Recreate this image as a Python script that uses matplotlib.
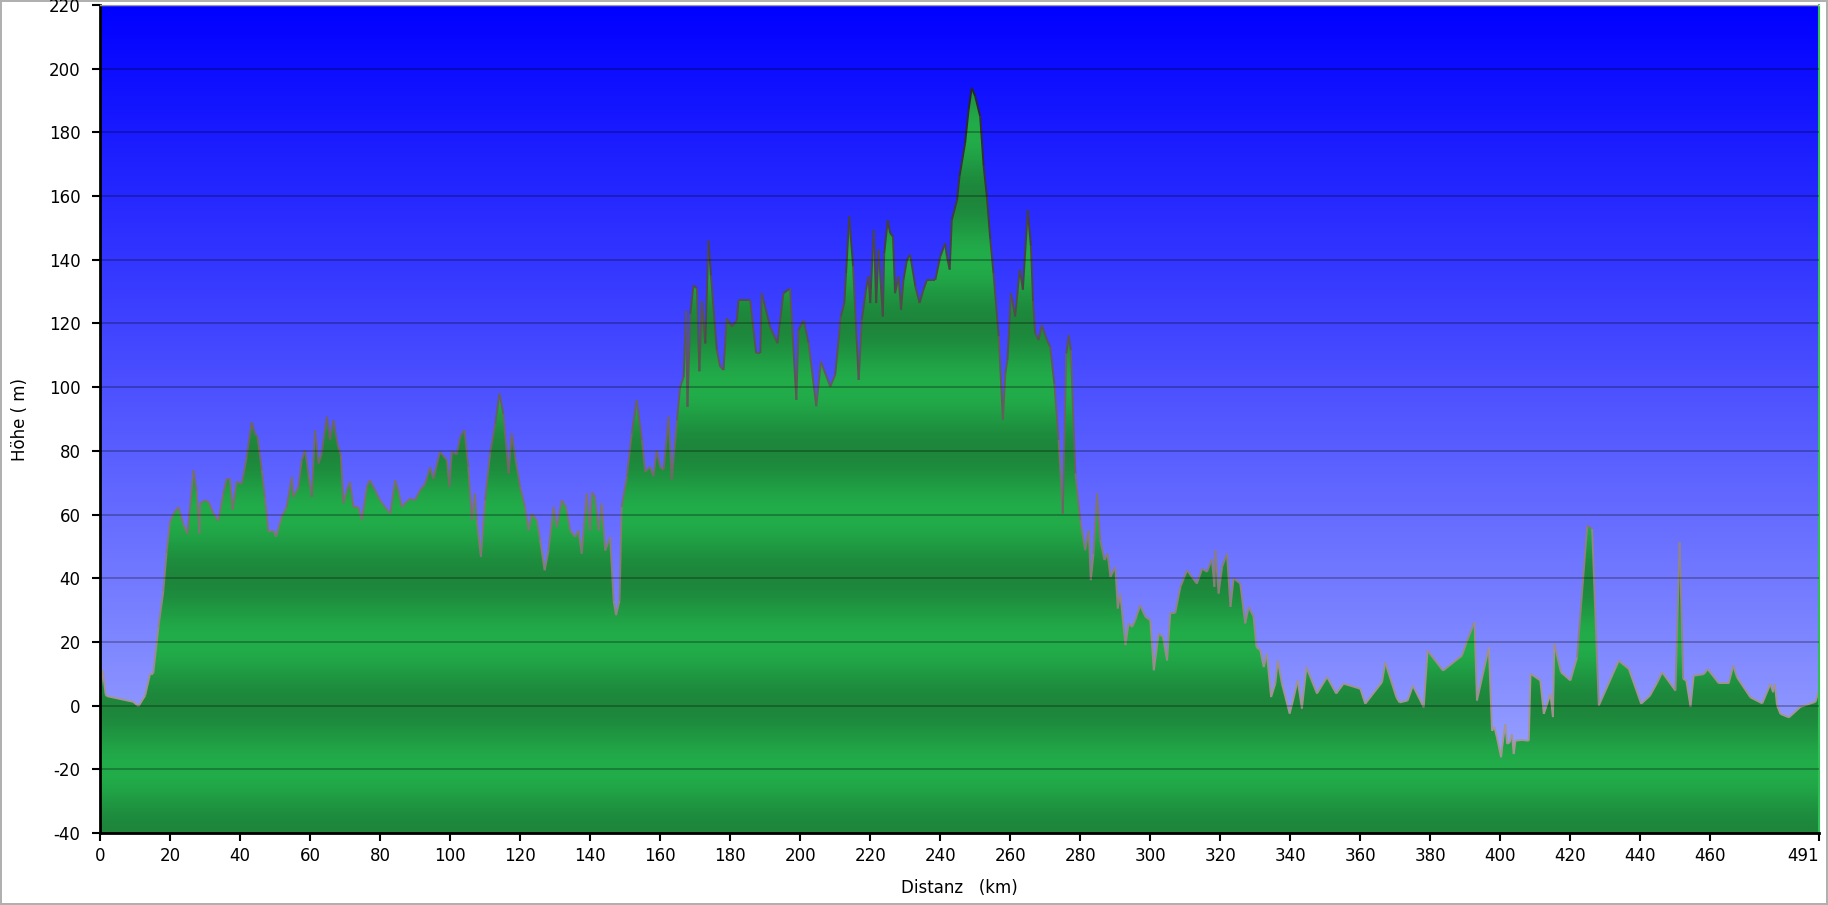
import numpy as np
import matplotlib
matplotlib.use("Agg")
import matplotlib.pyplot as plt
from matplotlib.patches import Polygon
from matplotlib.collections import LineCollection

plt.rcParams['axes.unicode_minus'] = False

# Höhenprofil: Distanz (km) und Höhe (m)
km = [0, 0.8, 1.6, 1.9, 9.5, 11, 12.9, 14.3, 15.2, 16.7, 18.1, 19, 20, 21, 22.4, 23.8, 25,
      26.7, 27.6, 28.4, 28.6, 30, 31, 32.4, 33.8, 35.2, 36.2, 37.1, 37.9, 39, 40.5, 41.9,
      43.3, 44.3, 45, 46.2, 47.1, 48.1, 49.5, 50.3, 51.9, 53.3, 54.8, 55.2, 56.7, 57.6,
      58.6, 59.5, 60.5, 61.4, 62.4, 63.3, 64.8, 65.7, 66.7, 67.8, 68.8, 69.5, 70.5, 71.4,
      72.4, 73.8, 74.8, 76.2, 77.1, 78.6, 80, 81.4, 82.9, 84.3, 85.2, 86.2, 87.1, 88.6,
      90, 91.4, 92.9, 94.3, 95.2, 97.1, 99.1, 99.8, 100.5, 101.9, 102.9, 104.1, 105.2,
      106.2, 107.1, 107.6, 108.8, 110, 111.4, 112.9, 114.1, 115.2, 116.7, 117.6, 118.6,
      120, 121.4, 122.4, 123.3, 124.8, 125.7, 127, 128.1, 129.5, 130.5, 131.9, 133.1,
      134.3, 135.7, 136.7, 137.6, 139, 140, 140.5, 141.4, 142.4, 143.3, 144.3, 145.7,
      146.7, 147.4, 148.4, 149, 150.5, 151.9, 153.3, 154.8, 155.7, 157.1, 158.1, 159,
      160, 161, 162.4, 163.3, 164.8, 165.7, 166.7, 167.4, 167.8, 168.6, 169.5, 170.5,
      171.2, 171.9, 172.9, 173.8, 174.5, 176.2, 177.1, 178.1, 179.0, 180.5, 181.9, 182.4,
      185.7, 187.4, 188.6, 189.0, 191.4, 193.5, 195.2, 197.1, 198.9, 199.5, 201, 202.4,
      204.6, 205.9, 208.6, 210, 211.6, 212.6, 213.1, 214, 215.1, 216.7, 217.6, 218.8,
      219.5, 220, 221, 221.7, 222.4, 223.6, 224, 225, 225.7, 226.5, 227.1, 228.1, 228.8,
      229.5, 230.5, 231.4, 232.9, 234.1, 235.2, 236.2, 238.6, 240, 241.4, 241.9, 242.7,
      243.3, 244.8, 245.5, 247.1, 248.1, 249.0, 250, 251.4, 252.4, 253.3, 254.3, 255.2,
      256.7, 257.9, 258.6, 259.2, 260.2, 261.4, 262.7, 263.6, 265, 265.9, 266.5, 267.1,
      268.1, 269.0, 270.5, 271.4, 272.6, 273.8, 275.0, 276, 276.7, 277.3, 278.6, 280,
      281.4, 282.4, 283.0, 283.8, 284.8, 285.7, 286.9, 287.8, 288.6, 290, 290.7, 291.4,
      292.9, 293.8, 294.8, 295.7, 297.1, 298.6, 300, 301, 302.4, 303.6, 304.8, 305.7,
      307.1, 308.6, 310.5, 313.3, 314.8, 316.2, 317.6, 318.3, 318.6, 319.5, 320.5, 321.9,
      322.9, 323.8, 325.7, 327.1, 328.1, 329.5, 330.3, 331.4, 332.4, 333.3, 334.5, 335.7,
      336.4, 337.6, 338.6, 339.8, 341, 342.1, 343.3, 344.6, 347.6, 350.5, 353.1, 355.2,
      360, 361.4, 366.2, 367.1, 370.3, 371.2, 373.5, 375, 378.1, 379.2, 383.6, 389.0,
      390.5, 392.6, 393.3, 396.7, 397.6, 398.3, 399.0, 400.2, 400.5, 401.4, 401.9, 402.7,
      403.3, 403.8, 404.3, 406.2, 408.1, 408.6, 411.4, 412.4, 414.3, 415.0, 415.4, 417.3,
      420, 421.9, 424.8, 426.2, 428.1, 433.8, 436.7, 440.2, 442.7, 444.8, 446.2, 450,
      451.2, 452.2, 453.1, 454.3, 455.2, 458.1, 459.2, 462.4, 465.2, 466.5, 467.6, 471.4,
      474.8, 477.1, 477.9, 478.4, 479.0, 480, 482.4, 485.7, 490, 491]
hoehe = [3, 11, 3.5, 3, 1.2, -0.2, 3.2, 10, 10, 24.7, 36, 48, 57.7, 60.3, 62.4, 57, 54,
         74, 67.6, 54, 63.5, 64.5, 64, 60.3, 58, 66.6, 71.3, 71.3, 61.4, 70.3, 69.7, 78,
         89, 85.4, 84.4, 74, 65.5, 54.6, 55, 53, 59.3, 62.4, 71.8, 65.5, 68.7, 77,
         80.2, 72.9, 65.5, 86.5, 76, 79, 90.7, 83.4, 89.6, 82.3, 78.6, 63.5, 67.6, 70.3,
         62.4, 62.4, 58.2, 68.7, 70.8, 67.6, 64.5, 62.4, 60.3, 70.8, 67.6, 62.4, 63.5, 65,
         64.5, 67.6, 69.7, 74.9, 71.2, 79.7, 77, 68.7, 79.9, 78.8, 84.4, 86.5, 75,
         58.2, 66.6, 58.2, 46.7, 64.5, 79, 88.6, 98, 91.6, 72.9, 85.5, 78,
         68.7, 62.4, 55, 60.3, 58.2, 52, 42.5, 48.7, 62.4, 56, 64.5, 62.4,
         55, 53, 55, 47.7, 66.6, 55, 67, 65.5, 55, 63.5, 48.7, 53,
         33, 28.4, 33, 62.4, 72, 85.5, 96, 83.4, 73.4, 75, 72, 80.2,
         75, 74, 90.7, 70.8, 89.6, 100, 103.2, 124, 93.8, 123, 132, 131,
         105, 127, 113.7, 146, 135, 111.6, 106.5, 105.4, 121.7, 119, 121, 127.4,
         127.4, 110.7, 110.7, 129.5, 119, 113.8, 129.5, 131, 96, 118, 121, 113.8,
         94, 108, 100.2, 103.9, 122.2, 126.4, 135.8, 153.6, 137.9, 102.3, 121.2, 130.6,
         134.8, 126.4, 149.4, 126.4, 143.2, 122.2, 142, 152.5, 148.4, 147.3, 129.5, 134.8, 124.3,
         133.7, 140, 141.6, 131.6, 126.4, 130.6, 133.7, 133.7, 141, 145.2, 141, 136.9,
         152.5, 158.8, 166.2, 176.6, 187.1, 194, 191.3, 185, 169.3, 160, 146.3, 135.8,
         116, 89.7, 104.4, 108.6, 129.5, 122.2, 136.9, 130.6, 155.7, 144.2, 127, 117,
         114.8, 119.5, 114.8, 112.7, 101, 83.4, 60.3, 110.6, 116.3, 111.6, 72.9, 58.2,
         48.8, 55, 39.4, 47.7, 66.6, 52, 45.7, 47.7, 40.4, 43.5, 30.5, 35.2,
         19, 25.8, 24.7, 26.8, 31.5, 27.9, 26.8, 11.1, 22.6, 21.6, 14.2, 29,
         29, 37.3, 42.5, 38.3, 43, 42, 46, 37.3, 48.8, 35.2, 43.5, 47.7,
         31, 40, 38.3, 25.8, 31, 27.9, 18.4, 17.4, 12.1, 16.3, 2.7, 6.9,
         14.2, 6.9, 2.7, -2.5, 2.7, 8, -0.9, 12.1, 3.8, 9, 3.8, 6.9,
         5.3, 0.6, 7.4, 13.6, 2.6, 1, 1.6, 6.3, -0.5, 17.3, 11, 15.7,
         20.4, 26.2, 1.6, 18.3, -7.9, -6.8, -10, -16.2, -13, -5.8, -12, -11.5,
         -8.9, -15.2, -11, -10.8, -11, 10, 7.9, -2.6, 3.7, -3.6, 19.4, 10.5,
         7.9, 15.2, 56.5, 55.5, 0, 14.1, 11.5, 0.6, 3.1, 7.3, 10.5, 4.7,
         51.3, 8.4, 7.9, -0.3, 9.4, 9.9, 11.5, 7, 7, 12.6, 8.9, 2.6,
         0.7, 6.8, 4.2, 6.8, 0.1, -2.6, -3.7, -0.4, 1.2, 4.8]

x_ticks = [0, 20, 40, 60, 80, 100, 120, 140, 160, 180, 200, 220, 240, 260, 280, 300,
           320, 340, 360, 380, 400, 420, 440, 460, 491]
y_ticks = list(range(-40, 221, 20))

x_max = 491
y_min, y_max = -40, 220

fig = plt.figure(figsize=(18.28, 9.05), dpi=100)
fig.patch.set_edgecolor('#b0b0b0')
fig.patch.set_linewidth(1.5)
ax = fig.add_axes([100 / 1828, 72 / 905, 1719 / 1828, 828 / 905])

# Hintergrund: blauer Verlauf
t = np.linspace(0, 1, 300).reshape(-1, 1)
top = np.array([0, 0, 255]) / 255
bot = np.array([165, 175, 255]) / 255
bg = top + t[..., None] * (bot - top)
bg = bg.reshape(300, 1, 3)
ax.imshow(bg, extent=[0, x_max, y_min, y_max], aspect='auto', zorder=0,
          interpolation='bilinear')

# Gelaende: gruene Baender (Periode 40 m)
yy = np.linspace(y_max, y_min, 1041).reshape(-1, 1)
w = (1 - np.cos(2 * np.pi * yy / 40)) / 2
dark = np.array([29, 134, 59]) / 255
light = np.array([34, 173, 74]) / 255
gr = dark + w[..., None] * (light - dark)
gr = gr.reshape(-1, 1, 3)
im = ax.imshow(gr, extent=[0, x_max, y_min, y_max], aspect='auto', zorder=1,
               interpolation='bilinear')
verts = list(zip(km, hoehe)) + [(x_max, y_min), (0, y_min)]
poly = Polygon(verts, closed=True, facecolor='none', edgecolor='none',
               transform=ax.transData)
ax.add_patch(poly)
im.set_clip_path(poly)

# Umriss: oben dunkel, unten hellgrau
pts = np.column_stack([km, hoehe])
segs = np.stack([pts[:-1], pts[1:]], axis=1)
ym = np.clip((segs[:, :, 1].mean(axis=1)) / 200, 0, 1).reshape(-1, 1)
c_lo = np.array([165, 150, 150]) / 255
c_hi = np.array([35, 35, 35]) / 255
cols = c_lo + ym * (c_hi - c_lo)
lc = LineCollection(segs, colors=cols, linewidths=1.4, zorder=2)
ax.add_collection(lc)

ax.set_xlim(0, x_max)
ax.set_ylim(y_min, y_max)
ax.set_xticks(x_ticks)
ax.set_yticks(y_ticks)
ax.tick_params(axis='both', labelsize=12, length=6, width=1.5, direction='out',
               color='black')
ax.tick_params(axis='y', pad=8)
ax.tick_params(axis='x', pad=4)
ax.get_xticklabels()[-1].set_horizontalalignment('right')

ax.set_axisbelow(False)
ax.yaxis.grid(True, color='black', alpha=0.3, linewidth=1.2)
ax.xaxis.grid(False)

for s in ['left', 'bottom']:
    ax.spines[s].set_linewidth(2)
    ax.spines[s].set_color('black')
ax.spines['top'].set_color('#d0d0d0')
ax.spines['top'].set_linewidth(1)
ax.spines['right'].set_color('#2ec055')
ax.spines['right'].set_linewidth(1.5)

ax.set_xlabel("Distanz   (km)", fontsize=12, labelpad=10)
ax.set_ylabel("Höhe ( m)", fontsize=12, labelpad=14)

fig.savefig("out.png", dpi=100)
